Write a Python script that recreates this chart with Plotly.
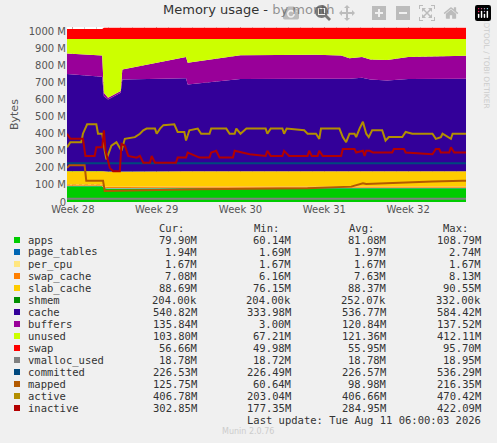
import plotly.graph_objects as go

# time axis in weeks
T = [27.93, 28.35, 28.37, 28.42, 28.57, 28.59, 29.35, 29.37, 30.0, 30.9, 31.2, 31.3, 31.45, 31.55, 31.75, 32.0, 32.69]
apps = [92, 92, 80, 78, 78, 78, 80, 80, 80, 80, 80, 80, 80, 80, 80, 80, 80]
page_tables = [2.0] * 17
per_cpu = [1.7] * 17
swap_cache = [7.1] * 17
slab_cache = [78, 78, 89, 89, 89, 89, 89, 89, 89, 89, 89, 89, 89, 89, 89, 89, 89]
shmem = [0.2] * 17
cache = [569, 552, 440, 422, 462, 539, 545, 508, 540, 542, 542, 542, 548, 538, 532, 540, 542]
buffers = [120, 125, 20, 10, 10, 59, 125, 127, 140, 140, 136, 120, 122, 117, 120, 130, 134]
unused = [85, 97, 315, 345, 305, 179, 105, 140, 95, 93, 97, 113, 105, 120, 123, 105, 99]
swap = [58, 58, 65, 65, 65, 65, 65, 65, 65, 65, 65, 65, 65, 65, 65, 65, 65]

t_line = [27.93, 32.69]
vmalloc_used = [18.8, 18.8]
committed = [226.5, 226.5]

t_mapped = [27.93, 27.96, 28.14, 28.16, 28.36, 28.38, 29.5, 30.8, 31.32, 31.46, 31.5, 31.93, 32.29, 32.65, 32.69]
mapped = [200, 215, 215, 125, 125, 65, 75, 80, 90, 110, 105, 115, 120, 125, 125]

t_active = [27.93, 27.97, 28.1, 28.12, 28.17, 28.28, 28.3, 28.35, 28.38, 28.4, 28.46, 28.52, 28.58, 28.62,
            28.74, 28.8, 28.84, 28.88, 28.98, 29.0, 29.04, 29.08, 29.21, 29.25, 29.33, 29.35, 29.39, 29.49,
            29.53, 29.63, 29.65, 29.83, 29.87, 29.93, 29.95, 30.0, 30.07, 30.3, 30.32, 30.36, 30.5, 30.52,
            30.55, 30.76, 30.8, 30.9, 30.94, 30.96, 31.18, 31.22, 31.26, 31.3, 31.36, 31.38, 31.42, 31.46,
            31.5, 31.53, 31.57, 31.69, 31.73, 31.77, 31.93, 31.97, 32.05, 32.29, 32.33, 32.39, 32.41, 32.51,
            32.53, 32.69]
active = [320, 350, 350, 400, 455, 455, 400, 400, 300, 250, 330, 350, 300, 370,
          380, 400, 420, 430, 430, 400, 430, 450, 455, 410, 410, 360, 420, 430,
          400, 400, 430, 430, 400, 400, 430, 400, 430, 430, 400, 430, 430, 400,
          430, 420, 400, 400, 370, 430, 430, 380, 350, 400, 400, 380, 430, 470,
          400, 380, 420, 420, 360, 380, 380, 410, 400, 400, 370, 380, 400, 370,
          400, 400]

t_inactive = [27.93, 27.97, 28.12, 28.15, 28.26, 28.28, 28.35, 28.37, 28.39, 28.44, 28.48, 28.56, 28.58,
              28.62, 28.66, 28.76, 28.8, 28.84, 28.92, 28.94, 28.98, 29.06, 29.08, 29.23, 29.25, 29.35,
              29.37, 29.51, 29.63, 29.65, 29.71, 29.75, 29.91, 29.93, 30.11, 30.3, 30.32, 30.36, 30.5,
              30.52, 30.58, 30.8, 30.82, 30.85, 30.92, 30.94, 30.98, 31.2, 31.22, 31.36, 31.38, 31.46,
              31.48, 31.5, 31.54, 31.58, 31.81, 31.83, 31.95, 31.97, 32.29, 32.33, 32.37, 32.39, 32.49,
              32.51, 32.55, 32.69]
inactive = [400, 370, 370, 270, 270, 320, 320, 420, 300, 200, 180, 180, 340,
            330, 270, 260, 270, 230, 230, 270, 230, 230, 230, 230, 260, 260,
            290, 260, 260, 290, 300, 260, 260, 300, 280, 270, 300, 270, 270,
            300, 270, 270, 300, 270, 270, 300, 270, 270, 310, 310, 290, 300,
            270, 300, 300, 290, 290, 310, 310, 290, 280, 310, 310, 290, 290,
            320, 290, 290]

names = ["apps", "page_tables", "per_cpu", "swap_cache", "slab_cache", "shmem", "cache", "buffers",
         "unused", "swap", "vmalloc_used", "committed", "mapped", "active", "inactive"]
colors = ["#00CC00", "#0066B3", "#FFE680", "#FF8000", "#FFCC00", "#008F00", "#330099", "#990099",
          "#CCFF00", "#FF0000", "#808080", "#00487D", "#B35A00", "#B38F00", "#B30000"]
cur = ["79.90M", "1.94M", "1.67M", "7.08M", "88.69M", "204.00k", "540.82M", "135.84M", "103.80M",
       "56.66M", "18.78M", "226.53M", "125.75M", "406.78M", "302.85M"]
mins = ["60.14M", "1.69M", "1.67M", "6.16M", "76.15M", "204.00k", "333.98M", "3.00M", "67.21M",
        "49.98M", "18.72M", "226.49M", "60.64M", "203.04M", "177.35M"]
avgs = ["81.08M", "1.97M", "1.67M", "7.63M", "88.37M", "252.07k", "536.77M", "120.84M", "121.36M",
        "55.95M", "18.78M", "226.57M", "98.98M", "406.66M", "284.95M"]
maxs = ["108.79M", "2.74M", "1.67M", "8.13M", "90.55M", "332.00k", "584.42M", "137.52M", "412.11M",
        "95.70M", "18.95M", "536.29M", "216.35M", "470.42M", "422.09M"]

W, H = 497, 443
L, R, TOP, B = 67, 466, 27, 202

fig = go.Figure()
stack = [apps, page_tables, per_cpu, swap_cache, slab_cache, shmem, cache, buffers, unused, swap]
for i, vals in enumerate(stack):
    fig.add_trace(go.Scatter(x=T, y=vals, stackgroup="mem", mode="none", fillcolor=colors[i],
                             name=names[i]))
lines = [(t_line, vmalloc_used, 10), (t_line, committed, 11), (t_mapped, mapped, 12),
         (t_active, active, 13), (t_inactive, inactive, 14)]
for tx, vals, ci in lines:
    fig.add_trace(go.Scatter(x=tx, y=vals, mode="lines", line=dict(color=colors[ci], width=2),
                             name=names[ci]))


def px(x):
    return (x - L) / (R - L)


def py(y):
    return (B - y) / (B - TOP)


ann = []
mono = dict(family="DejaVu Sans Mono", size=10.5, color="#333333")
for lbl, xr in [("Cur:", 186), ("Min:", 281), ("Avg:", 376), ("Max:", 470)]:
    ann.append(dict(x=px(xr), y=py(227.5), text=lbl, xanchor="right", font=mono))
shapes = []
for i, n in enumerate(names):
    yy = 240 + i * 12
    shapes.append(dict(type="rect", xref="paper", yref="paper", x0=px(14), x1=px(20),
                       y0=py(yy + 3), y1=py(yy - 3), fillcolor=colors[i], line_width=0))
    ann.append(dict(x=px(26), y=py(yy), text=n, xanchor="left", font=mono))
    for col, xr in [(cur, 199), (mins, 293), (avgs, 388), (maxs, 483)]:
        ann.append(dict(x=px(xr), y=py(yy), text=col[i], xanchor="right", font=mono))
ann.append(dict(x=px(483), y=py(419.5), text="Last update: Tue Aug 11 06:00:03 2026",
                xanchor="right", font=mono))
ann.append(dict(x=px(248), y=py(432), text="Munin 2.0.76", xanchor="center",
                font=dict(family="DejaVu Sans", size=8, color="#cccccc")))
ann.append(dict(x=px(248), y=py(10), text="Memory usage - by month", xanchor="center",
                font=dict(family="DejaVu Sans", size=13, color="#333333")))
ann.append(dict(x=px(14), y=py(115), text="Bytes", textangle=-90, xanchor="center",
                font=dict(family="DejaVu Sans", size=11, color="#555555")))
ann.append(dict(x=px(487), y=py(60), text="RRDTOOL / TOBI OETIKER", textangle=90, xanchor="center",
                font=dict(family="DejaVu Sans", size=7.5, color="#cccccc")))
for a in ann:
    a.update(xref="paper", yref="paper", showarrow=False, yanchor="middle")

fig.update_layout(
    width=W, height=H, margin=dict(l=L, r=W - R, t=TOP, b=H - B),
    paper_bgcolor="#F0F0F0", plot_bgcolor="#FFFFFF", showlegend=False,
    annotations=ann, shapes=shapes,
)
fig.update_xaxes(range=[27.93, 32.69], tickvals=[28, 29, 30, 31, 32],
                 ticktext=["Week 28", "Week 29", "Week 30", "Week 31", "Week 32"],
                 tickfont=dict(family="DejaVu Sans", size=10, color="#555555"),
                 showgrid=True, gridcolor="rgba(200,120,120,0.5)", griddash="dot", gridwidth=1,
                 minor=dict(dtick=1 / 7, tick0=28, showgrid=True, gridcolor="rgba(160,160,160,0.45)",
                            griddash="dot"),
                 layer="above traces", zeroline=False, showline=False)
fig.update_yaxes(range=[0, 1025], tickvals=[0, 100, 200, 300, 400, 500, 600, 700, 800, 900, 1000],
                 ticktext=["0", "100 M", "200 M", "300 M", "400 M", "500 M", "600 M", "700 M",
                           "800 M", "900 M", "1000 M"],
                 tickfont=dict(family="DejaVu Sans", size=10, color="#555555"),
                 showgrid=True, gridcolor="rgba(200,120,120,0.5)", griddash="dot",
                 minor=dict(dtick=50, showgrid=True, gridcolor="rgba(160,160,160,0.45)", griddash="dot"),
                 layer="above traces", zeroline=False, showline=False)

fig.write_html("out.html", post_script="document.body.style.margin='0';")
